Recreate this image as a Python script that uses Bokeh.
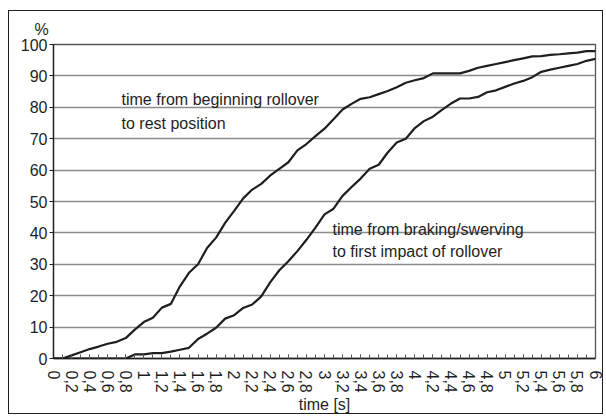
import math

from bokeh.plotting import figure
from bokeh.models import FixedTicker, Label, Range1d
from bokeh.embed import file_html
from bokeh.resources import INLINE

# Sampling grid (seconds)
time_s = [0.0, 0.1, 0.2, 0.3, 0.4, 0.5, 0.6, 0.7, 0.8, 0.9,
          1.0, 1.1, 1.2, 1.3, 1.4, 1.5, 1.6, 1.7, 1.8, 1.9,
          2.0, 2.1, 2.2, 2.3, 2.4, 2.5, 2.6, 2.7, 2.8, 2.9,
          3.0, 3.1, 3.2, 3.3, 3.4, 3.5, 3.6, 3.7, 3.8, 3.9,
          4.0, 4.1, 4.2, 4.3, 4.4, 4.5, 4.6, 4.7, 4.8, 4.9,
          5.0, 5.1, 5.2, 5.3, 5.4, 5.5, 5.6, 5.7, 5.8, 5.9, 6.0]

# Cumulative share (%) of cases: time from beginning rollover to rest position
rollover_to_rest = [0.0, 0.0, 1.0, 2.0, 3.0, 3.8, 4.7, 5.3, 6.5, 9.2,
                    11.6, 13.0, 16.2, 17.4, 23.0, 27.3, 30.0, 35.2, 38.5, 43.2,
                    47.0, 51.0, 53.8, 55.6, 58.3, 60.4, 62.5, 66.3, 68.3, 70.8,
                    73.2, 76.2, 79.3, 81.1, 82.7, 83.2, 84.2, 85.2, 86.4, 87.8,
                    88.6, 89.3, 90.8, 90.8, 90.8, 90.8, 91.6, 92.6, 93.2, 93.8,
                    94.4, 95.0, 95.6, 96.2, 96.3, 96.7, 96.9, 97.2, 97.4, 97.9, 97.9]

# Cumulative share (%) of cases: time from braking/swerving to first impact of rollover
braking_to_impact = [0.0, 0.0, 0.0, 0.0, 0.0, 0.0, 0.0, 0.0, 0.0, 1.3,
                     1.3, 1.7, 1.7, 2.2, 2.8, 3.4, 6.2, 7.9, 9.8, 12.7,
                     13.8, 16.1, 17.2, 19.8, 24.3, 28.1, 31.0, 34.2, 37.8, 41.7,
                     45.9, 47.7, 51.8, 54.6, 57.3, 60.4, 61.7, 65.6, 68.8, 70.0,
                     73.4, 75.6, 77.0, 79.2, 81.2, 82.8, 82.8, 83.3, 84.8, 85.4,
                     86.5, 87.6, 88.4, 89.6, 91.3, 92.0, 92.6, 93.2, 93.8, 94.8, 95.4]

x_tick_values = [0.0, 0.2, 0.4, 0.6, 0.8, 1.0, 1.2, 1.4, 1.6, 1.8,
                 2.0, 2.2, 2.4, 2.6, 2.8, 3.0, 3.2, 3.4, 3.6, 3.8,
                 4.0, 4.2, 4.4, 4.6, 4.8, 5.0, 5.2, 5.4, 5.6, 5.8, 6.0]
x_tick_labels = ["0", "0,2", "0,4", "0,6", "0,8", "1", "1,2", "1,4", "1,6", "1,8",
                 "2", "2,2", "2,4", "2,6", "2,8", "3", "3,2", "3,4", "3,6", "3,8",
                 "4", "4,2", "4,4", "4,6", "4,8", "5", "5,2", "5,4", "5,6", "5,8", "6"]
y_tick_values = [0, 10, 20, 30, 40, 50, 60, 70, 80, 90, 100]

FONT = "Liberation Sans"
INK = "#1e1e1e"
SIZE = "16px"

p = figure(width=595, height=404, output_backend="svg", toolbar_location=None,
           x_range=Range1d(0, 6), y_range=Range1d(0, 100),
           min_border_left=44, min_border_right=9, min_border_top=33,
           min_border_bottom=55)
p.styles = {"margin-left": "8px", "margin-top": "10px",
            "border": "1px solid #1e1e1e"}
p.background_fill_color = "white"
p.border_fill_color = "white"
p.outline_line_color = "#555555"
p.outline_line_width = 1.3

# unit of the y axis, set above the top-left corner of the frame
p.title.text = "%"
p.title.align = "left"
p.title.offset = -19
p.title.standoff = 13
p.title.text_font = FONT
p.title.text_font_size = SIZE
p.title.text_font_style = "normal"
p.title.text_color = INK
p.title.text_line_height = 0.8

# grid
p.xgrid.visible = False
p.ygrid.ticker = FixedTicker(ticks=y_tick_values)
p.ygrid.grid_line_color = "#8c8c8c"
p.ygrid.grid_line_width = 1.3

# y axis
p.yaxis.ticker = FixedTicker(ticks=y_tick_values)
p.yaxis.axis_line_color = INK
p.yaxis.axis_line_width = 1.3
p.yaxis.major_tick_out = 4
p.yaxis.major_tick_in = 0
p.yaxis.major_tick_line_color = INK
p.yaxis.minor_tick_line_color = None
p.yaxis.major_label_standoff = 2
p.yaxis.major_label_text_font = FONT
p.yaxis.major_label_text_font_size = SIZE
p.yaxis.major_label_text_color = INK

# x axis
p.xaxis.ticker = FixedTicker(ticks=x_tick_values, minor_ticks=time_s)
p.xaxis.axis_line_color = INK
p.xaxis.axis_line_width = 1.3
p.xaxis.major_tick_in = 4
p.xaxis.major_tick_out = 0
p.xaxis.minor_tick_in = 4
p.xaxis.minor_tick_out = 0
p.xaxis.major_tick_line_color = "#555555"
p.xaxis.minor_tick_line_color = "#555555"
p.xaxis.major_label_overrides = dict(zip(x_tick_values, x_tick_labels))
p.xaxis.major_label_orientation = -math.pi / 2
p.xaxis.major_label_standoff = 12
p.xaxis.major_label_text_font = FONT
p.xaxis.major_label_text_font_size = SIZE
p.xaxis.major_label_text_color = INK
p.xaxis.axis_label = "time [s]"
p.xaxis.axis_label_text_font = FONT
p.xaxis.axis_label_text_font_size = SIZE
p.xaxis.axis_label_text_font_style = "normal"
p.xaxis.axis_label_text_color = INK
p.xaxis.axis_label_standoff = 0

# curves
p.line(time_s, rollover_to_rest, line_color=INK, line_width=2.2)
p.line(time_s, braking_to_impact, line_color=INK, line_width=2.2)

# in-plot captions
def caption(x, y, text):
    p.add_layout(Label(x=x, y=y, text=text, text_font=FONT,
                       text_font_size=SIZE, text_color=INK,
                       text_align="left", text_baseline="alphabetic"))

caption(0.753, 82.6, "time from beginning rollover")
caption(0.753, 74.7, "to rest position")
caption(3.089, 41.1, "time from braking/swerving")
caption(3.089, 34.0, "to first impact of rollover")

open("out.html", "w").write(file_html(p, INLINE))
